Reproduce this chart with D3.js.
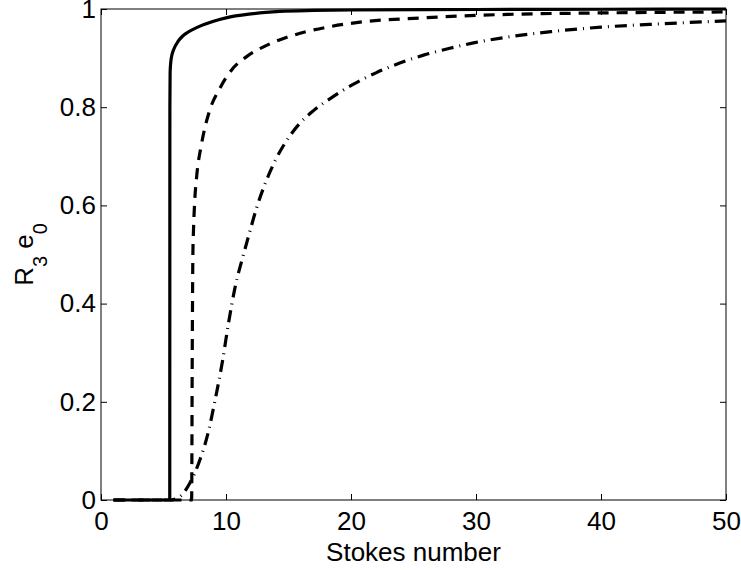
<!DOCTYPE html>
<html>
<head>
<meta charset="utf-8">
<script src="https://cdn.jsdelivr.net/npm/d3@7"></script>
<style>
  body { margin: 0; background: #fff; }
  svg { display: block; font-family: 'Liberation Sans', Arial, sans-serif; }
  .tick text { font-size: 26px; fill: #000; }
  .tick line { stroke: #000; }
  .axis-label { font-size: 26px; fill: #000; }
</style>
</head>
<body>
<svg width="741" height="570"></svg>
<script>
// values
const xTicks = [0, 10, 20, 30, 40, 50];
const yTicks = [0, 0.2, 0.4, 0.6, 0.8, 1];

const solidX = [1, 5.5, 5.51, 5.53, 5.6, 5.68, 5.79, 6.19, 6.5, 6.85, 7.65, 9, 10, 12, 14.3, 17, 20, 30, 40, 50];
const solidY = [0, 0, 0.8, 0.872, 0.896, 0.907, 0.916, 0.935, 0.944, 0.951, 0.962, 0.975, 0.982, 0.99, 0.995, 0.997, 0.998, 0.999, 0.9995, 1];

const dashX = [1, 7.25, 7.3, 7.35, 7.4, 7.5, 7.65, 8.05, 8.7, 9.5, 10.45, 11.65, 13, 14.6, 16.45, 18.3, 21, 25, 29, 32.5, 40, 50];
const dashY = [0, 0, 0.3, 0.5, 0.55, 0.61, 0.658, 0.726, 0.794, 0.838, 0.876, 0.903, 0.923, 0.94, 0.954, 0.964, 0.974, 0.981, 0.986, 0.989, 0.992, 0.994];

const dotX = [1, 5.5, 6.3, 7.1, 7.9, 8.6, 9.1, 9.7, 10.2, 10.7, 11.4, 11.78, 12.45, 13.25, 14.05, 14.85, 15.9, 17, 18.6, 20.2, 22, 23.9, 25.8, 27.9, 29.8, 32.3, 36, 40, 45, 50];
const dotY = [0, 0, 0.007, 0.034, 0.081, 0.14, 0.2, 0.28, 0.36, 0.43, 0.5, 0.535, 0.595, 0.652, 0.697, 0.732, 0.767, 0.793, 0.822, 0.847, 0.87, 0.89, 0.906, 0.92, 0.931, 0.942, 0.954, 0.963, 0.97, 0.976];

const svg = d3.select('svg');
const width = +svg.attr('width');
const height = +svg.attr('height');

const render = () => {
    const margin = { top: 9, right: 15, bottom: 70, left: 101 };
    const innerWidth = width - margin.left - margin.right;
    const innerHeight = height - margin.top - margin.bottom;

    const xScale = d3.scaleLinear().domain([0, 50]).range([0, innerWidth]);
    const yScale = d3.scaleLinear().domain([0, 1]).range([innerHeight, 0]);

    const g = svg.append('g')
        .attr('transform', `translate(${margin.left}, ${margin.top})`);

    // matlab style: ticks inside on all four sides
    g.append('g')
        .attr('transform', `translate(0, ${innerHeight})`)
        .call(d3.axisBottom(xScale).tickValues(xTicks).tickSize(-6).tickPadding(12));
    g.append('g')
        .call(d3.axisTop(xScale).tickValues(xTicks).tickSize(-6).tickFormat(''));
    g.append('g')
        .call(d3.axisLeft(yScale).tickValues(yTicks).tickSize(-6).tickPadding(5)
            .tickFormat(d3.format('~g')));
    g.append('g')
        .attr('transform', `translate(${innerWidth}, 0)`)
        .call(d3.axisRight(yScale).tickValues(yTicks).tickSize(-6).tickFormat(''));

    g.selectAll('.domain').remove();
    g.selectAll('.tick text').attr('font-family', null).attr('font-size', null);

    g.append('rect')
        .attr('width', innerWidth)
        .attr('height', innerHeight)
        .attr('fill', 'none')
        .attr('stroke', '#000')
        .attr('stroke-width', 1);

    const line = d3.line()
        .x(d => xScale(d[0]))
        .y(d => yScale(d[1]))
        .curve(d3.curveMonotoneX);

    const series = [
        { pts: d3.zip(dotX, dotY), dash: '12,6,1,6' },
        { pts: d3.zip(dashX, dashY), dash: '11,8' },
        { pts: d3.zip(solidX, solidY), dash: null }
    ];

    g.selectAll('path.curve').data(series)
        .enter().append('path')
            .attr('class', 'curve')
            .attr('d', d => line(d.pts))
            .attr('fill', 'none')
            .attr('stroke', '#000')
            .attr('stroke-width', 3.2)
            .attr('stroke-dasharray', d => d.dash);

    svg.append('text')
        .attr('class', 'axis-label')
        .attr('text-anchor', 'middle')
        .attr('x', margin.left + innerWidth / 2)
        .attr('y', 561)
        .text('Stokes number');

    const yLabel = svg.append('text')
        .attr('class', 'axis-label')
        .attr('text-anchor', 'middle')
        .attr('transform', `translate(33, ${margin.top + innerHeight / 2}) rotate(-90)`);
    yLabel.append('tspan').text('R');
    yLabel.append('tspan').attr('dy', 14).attr('font-size', 20).text('3');
    yLabel.append('tspan').attr('dy', -14).text(' e');
    yLabel.append('tspan').attr('dy', 14).attr('font-size', 20).text('0');
};

render();
</script>
</body>
</html>
